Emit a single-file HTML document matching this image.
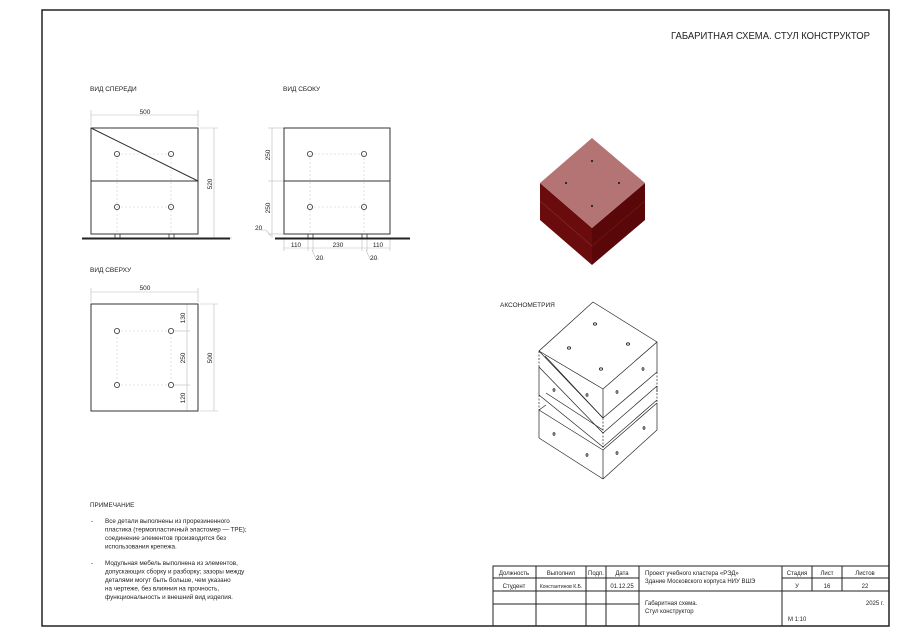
<!DOCTYPE html>
<html><head><meta charset="utf-8"><style>
html,body{margin:0;padding:0;background:#fff}
svg{display:block}
text{font-family:"Liberation Sans","DejaVu Sans",sans-serif;fill:#222}
</style></head><body>
<svg width="900" height="636" viewBox="0 0 900 636" xmlns="http://www.w3.org/2000/svg">
<rect x="0" y="0" width="900" height="636" fill="#fff"/>
<rect x="42" y="10" width="847" height="616" fill="none" stroke="#222" stroke-width="1.5"/>
<text x="671" y="39" font-size="10" textLength="199" lengthAdjust="spacingAndGlyphs">ГАБАРИТНАЯ СХЕМА. СТУЛ КОНСТРУКТОР</text>

<g font-size="6.5">
<text x="90" y="91">ВИД СПЕРЕДИ</text>
<text x="283" y="91">ВИД СБОКУ</text>
<text x="90" y="272">ВИД СВЕРХУ</text>
<text x="500" y="307">АКСОНОМЕТРИЯ</text>
</g>

<!-- FRONT VIEW -->
<g fill="none">
<g stroke="#bbb" stroke-width="0.6">
<line x1="91" y1="115" x2="198" y2="115"/><line x1="91" y1="110" x2="91" y2="126"/><line x1="198" y1="110" x2="198" y2="126"/>
<line x1="214" y1="128" x2="214" y2="238"/><line x1="200" y1="128" x2="218" y2="128"/><line x1="232" y1="238" x2="218" y2="238"/>
</g>
<g stroke="#ccc" stroke-width="0.6" stroke-dasharray="2,2">
<line x1="117" y1="154" x2="171" y2="154"/><line x1="117" y1="207" x2="171" y2="207"/>
<line x1="117" y1="154" x2="117" y2="234"/><line x1="171" y1="154" x2="171" y2="234"/>
</g>
<rect x="91" y="128" width="107" height="106" stroke="#333" stroke-width="1"/>
<line x1="91" y1="181" x2="198" y2="181" stroke="#333"/>
<line x1="91" y1="128" x2="198" y2="181" stroke="#333"/>
<g stroke="#333" stroke-width="0.8">
<circle cx="117" cy="154" r="2.6"/><circle cx="171" cy="154" r="2.6"/><circle cx="117" cy="207" r="2.6"/><circle cx="171" cy="207" r="2.6"/>
<rect x="115" y="234" width="5" height="4"/><rect x="169" y="234" width="5" height="4"/>
</g>
<line x1="82" y1="238.5" x2="230" y2="238.5" stroke="#222" stroke-width="2"/>
</g>
<text x="145" y="114" font-size="6.5" text-anchor="middle">500</text>
<text x="0" y="0" font-size="6.5" text-anchor="middle" transform="translate(212,184) rotate(-90)">520</text>

<!-- SIDE VIEW -->
<g fill="none">
<g stroke="#bbb" stroke-width="0.6">
<line x1="272" y1="128" x2="272" y2="238"/><line x1="268" y1="128" x2="284" y2="128"/><line x1="268" y1="181" x2="284" y2="181"/><line x1="268" y1="234" x2="284" y2="234"/>
<line x1="284" y1="248" x2="390" y2="248"/>
<line x1="284" y1="238" x2="284" y2="251"/><line x1="308" y1="238" x2="308" y2="251"/><line x1="313" y1="238" x2="313" y2="251"/><line x1="362" y1="238" x2="362" y2="251"/><line x1="367" y1="238" x2="367" y2="251"/><line x1="390" y1="238" x2="390" y2="251"/>
<polyline points="312,250 316,259 325,259"/><polyline points="366,250 370,259 379,259"/><polyline points="271,236 266,230 257,230"/>
</g>
<g stroke="#ccc" stroke-width="0.6" stroke-dasharray="2,2">
<line x1="310" y1="154" x2="364" y2="154"/><line x1="310" y1="207" x2="364" y2="207"/>
<line x1="310" y1="154" x2="310" y2="234"/><line x1="364" y1="154" x2="364" y2="234"/>
</g>
<rect x="284" y="128" width="106" height="106" stroke="#333"/>
<line x1="284" y1="181" x2="390" y2="181" stroke="#333"/>
<g stroke="#333" stroke-width="0.8">
<circle cx="310" cy="154" r="2.6"/><circle cx="364" cy="154" r="2.6"/><circle cx="310" cy="207" r="2.6"/><circle cx="364" cy="207" r="2.6"/>
<rect x="308" y="234" width="5" height="4"/><rect x="362" y="234" width="5" height="4"/>
</g>
<line x1="275" y1="238.5" x2="410" y2="238.5" stroke="#222" stroke-width="2"/>
</g>
<g font-size="6.5">
<text x="0" y="0" text-anchor="middle" transform="translate(270,155) rotate(-90)">250</text>
<text x="0" y="0" text-anchor="middle" transform="translate(270,208) rotate(-90)">250</text>
<text x="255" y="230">20</text>
<text x="296" y="247" text-anchor="middle">110</text>
<text x="338" y="247" text-anchor="middle">230</text>
<text x="378" y="247" text-anchor="middle">110</text>
<text x="316" y="260">20</text>
<text x="370" y="260">20</text>
</g>

<!-- TOP VIEW -->
<g fill="none">
<g stroke="#bbb" stroke-width="0.6">
<line x1="91" y1="292" x2="198" y2="292"/><line x1="91" y1="288" x2="91" y2="302"/><line x1="198" y1="288" x2="198" y2="302"/>
<line x1="214" y1="304" x2="214" y2="411"/><line x1="200" y1="304" x2="218" y2="304"/><line x1="200" y1="411" x2="218" y2="411"/>
<line x1="187" y1="304" x2="187" y2="411"/><line x1="174" y1="331" x2="190" y2="331"/><line x1="174" y1="385" x2="190" y2="385"/>
</g>
<g stroke="#ccc" stroke-width="0.6" stroke-dasharray="2,2">
<rect x="117" y="331" width="54" height="54"/>
</g>
<rect x="91" y="304" width="107" height="107" stroke="#333"/>
<g stroke="#333" stroke-width="0.8">
<circle cx="117" cy="331" r="2.6"/><circle cx="171" cy="331" r="2.6"/><circle cx="117" cy="385" r="2.6"/><circle cx="171" cy="385" r="2.6"/>
</g>
</g>
<g font-size="6.5">
<text x="145" y="290" text-anchor="middle">500</text>
<text x="0" y="0" text-anchor="middle" transform="translate(185,318) rotate(-90)">130</text>
<text x="0" y="0" text-anchor="middle" transform="translate(185,358) rotate(-90)">250</text>
<text x="0" y="0" text-anchor="middle" transform="translate(185,398) rotate(-90)">120</text>
<text x="0" y="0" text-anchor="middle" transform="translate(212,358) rotate(-90)">500</text>
</g>

<!-- RED CUBE -->
<polygon points="540,183 592,228 592,265 540,220" fill="#6a0c0e"/>
<polygon points="645,183 592,228 592,265 645,220" fill="#5a0709"/>
<line x1="540" y1="201" x2="592" y2="246" stroke="#8a2a2a" stroke-width="0.6"/>
<line x1="645" y1="201" x2="592" y2="246" stroke="#7a1a1a" stroke-width="0.6"/>
<polygon points="592,138 645,183 592,228 540,183" fill="#b47474"/>
<g fill="#222"><circle cx="592" cy="161" r="1.1"/><circle cx="566" cy="183" r="1.1"/><circle cx="619" cy="183" r="1.1"/><circle cx="592" cy="206" r="1.1"/></g>

<!-- AXONOMETRY -->
<g fill="none" stroke="#222" stroke-width="0.7">
<polygon points="593,302 657,342 603,389 539,351"/>
<line x1="603" y1="389" x2="603" y2="418"/>
<line x1="539" y1="351" x2="603" y2="418"/>
<line x1="545" y1="356" x2="603" y2="418"/>
<line x1="539" y1="367" x2="603" y2="433"/>
<line x1="539" y1="367" x2="539" y2="395"/>
<line x1="539" y1="395" x2="603" y2="447"/>
<line x1="546" y1="393" x2="603" y2="430"/>
<line x1="657" y1="342" x2="657" y2="372"/>
<line x1="603" y1="418" x2="657" y2="372"/>
<line x1="603" y1="433" x2="657" y2="386"/>
<line x1="657" y1="386" x2="657" y2="392"/>
<line x1="603" y1="447" x2="657" y2="400"/>
<line x1="539" y1="410" x2="603" y2="450"/>
<line x1="539" y1="410" x2="539" y2="438"/>
<line x1="539" y1="410" x2="546" y2="405"/>
<line x1="603" y1="450" x2="603" y2="479"/>
<line x1="603" y1="450" x2="657" y2="403"/>
<line x1="657" y1="403" x2="657" y2="430"/>
<line x1="539" y1="438" x2="603" y2="479"/>
<line x1="603" y1="479" x2="657" y2="430"/>
<line x1="539" y1="351" x2="539" y2="367" stroke-dasharray="2,1.5"/>
<line x1="539" y1="395" x2="539" y2="410" stroke-dasharray="2,1.5"/>
<line x1="603" y1="418" x2="603" y2="450" stroke-dasharray="2,1.5"/>
<line x1="657" y1="372" x2="657" y2="403" stroke-dasharray="2,1.5"/>
</g>
<g fill="none" stroke="#222" stroke-width="0.8">
<ellipse cx="595" cy="324" rx="1.6" ry="1.2"/><ellipse cx="569" cy="348" rx="1.6" ry="1.2"/><ellipse cx="628" cy="344" rx="1.6" ry="1.2"/><ellipse cx="601" cy="369" rx="1.6" ry="1.2"/>
<ellipse cx="554" cy="390" rx="1" ry="1.3"/><ellipse cx="587" cy="395" rx="1" ry="1.3"/><ellipse cx="643" cy="369" rx="1" ry="1.3"/><ellipse cx="617" cy="392" rx="1" ry="1.3"/>
<ellipse cx="554" cy="434" rx="1" ry="1.3"/><ellipse cx="587" cy="455" rx="1" ry="1.3"/><ellipse cx="644" cy="428" rx="1" ry="1.3"/><ellipse cx="617" cy="453" rx="1" ry="1.3"/>
</g>

<!-- NOTES -->
<g font-size="6.3">
<text x="90" y="507">ПРИМЕЧАНИЕ</text>
<text x="91" y="523">-</text>
<text x="105" y="523">Все детали выполнены из прорезиненного</text>
<text x="105" y="531.5">пластика (термопластичный эластомер — TPE);</text>
<text x="105" y="540">соединение элементов производится без</text>
<text x="105" y="548.5">использования крепежа.</text>
<text x="91" y="565">-</text>
<text x="105" y="565">Модульная мебель выполнена из элементов,</text>
<text x="105" y="573.5">допускающих сборку и разборку; зазоры между</text>
<text x="105" y="582">деталями могут быть больше, чем указано</text>
<text x="105" y="590.5">на чертеже, без влияния на прочность,</text>
<text x="105" y="599">функциональность и внешний вид изделия.</text>
</g>

<!-- TITLE BLOCK -->
<g fill="none" stroke="#222" stroke-width="1">
<rect x="493" y="566" width="396" height="60"/>
<line x1="536" y1="566" x2="536" y2="626"/>
<line x1="586" y1="566" x2="586" y2="626"/>
<line x1="606" y1="566" x2="606" y2="626"/>
<line x1="639" y1="566" x2="639" y2="626"/>
<line x1="782" y1="566" x2="782" y2="626"/>
<line x1="812" y1="566" x2="812" y2="591"/>
<line x1="842" y1="566" x2="842" y2="591"/>
<line x1="493" y1="578" x2="639" y2="578"/>
<line x1="782" y1="578" x2="889" y2="578"/>
<line x1="493" y1="591" x2="889" y2="591"/>
<line x1="493" y1="604" x2="639" y2="604"/>
</g>
<g font-size="6" text-anchor="middle">
<text x="514" y="575">Должность</text>
<text x="561" y="575">Выполнил</text>
<text x="596" y="575">Подп.</text>
<text x="622" y="575">Дата</text>
<text x="514" y="588">Студент</text>
<text x="561" y="588" font-size="5">Константинов К.Б.</text>
<text x="622" y="588">01.12.25</text>
<text x="797" y="575">Стадия</text>
<text x="827" y="575">Лист</text>
<text x="865" y="575">Листов</text>
<text x="797" y="588">У</text>
<text x="827" y="588">16</text>
<text x="865" y="588">22</text>
</g>
<g font-size="6">
<text x="645" y="575">Проект учебного кластера «РЭД»</text>
<text x="645" y="583">Здание Московского корпуса НИУ ВШЭ</text>
<text x="645" y="605">Габаритная схема.</text>
<text x="645" y="613">Стул конструктор</text>
<text x="884" y="605" text-anchor="end">2025 г.</text>
<text x="788" y="621">М 1:10</text>
</g>
</svg>
</body></html>
